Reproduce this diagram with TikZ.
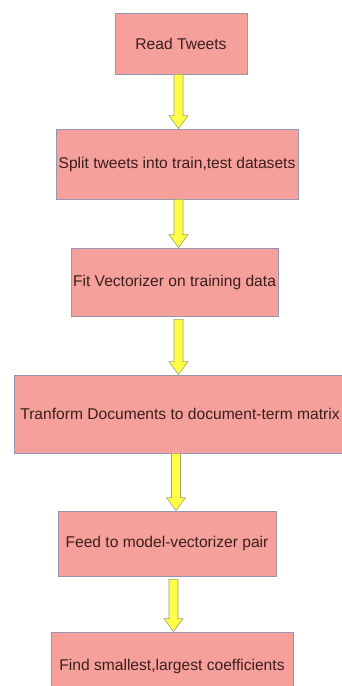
\documentclass[tikz,border=0pt]{standalone}
\usepackage{fontspec}
\setmainfont{Liberation Sans}
\usetikzlibrary{calc}
\definecolor{boxfill}{RGB}{245,160,155}
\definecolor{boxedge}{RGB}{150,150,180}
\definecolor{arrowfill}{RGB}{255,255,70}
\definecolor{arrowedge}{RGB}{160,160,110}
\definecolor{textcol}{RGB}{60,30,30}
\tikzstyle{process} = [rectangle, text centered, draw=boxedge, fill=boxfill, text=textcol, line width=0.8pt, font=\fontsize{15.6}{18}\selectfont, inner sep=0pt]
\tikzstyle{fatarrow} = [draw=arrowedge, fill=arrowfill, line width=0.6pt, to path={
  let \p1=(\tikztostart), \p2=(\tikztotarget) in
  (\x1-4.5pt,\y1) -- (\x1-4.5pt,\y2+13pt) -- (\x1-9.5pt,\y2+13pt) -- (\x1,\y2)
  -- (\x1+9.5pt,\y2+13pt) -- (\x1+4.5pt,\y2+13pt) -- (\x1+4.5pt,\y1) -- cycle}]

\begin{document}
\begin{tikzpicture}[x=1pt, y=-1pt]
\useasboundingbox (0,0) rectangle (342,686);
\clip (0,0) rectangle (342,686);

\node (read) [process, minimum width=132pt, minimum height=61pt] at (181,43.5) {Read Tweets};
\node (split) [process, minimum width=242pt, minimum height=70pt] at (177,164) {Split tweets into train,test datasets};
\node (fit) [process, minimum width=207pt, minimum height=68pt] at (174.5,282) {Fit Vectorizer on training data};
\node (transform) [process, minimum width=338pt, minimum height=78pt] at (183,414) {\hspace*{-6pt}Tranform Documents to document-term matrix};
\node (feed) [process, minimum width=218pt, minimum height=65pt] at (167,543.5) {Feed to model-vectorizer pair};
\node (find) [process, minimum width=242pt, minimum height=68pt] at (172,666) {Find smallest,largest coefficients};

\coordinate (a1) at (178.5,0);
\coordinate (a4) at (176,0);
\coordinate (a5) at (173.5,0);

\draw [fatarrow] (read.south -| a1) to (split.north -| a1);
\draw [fatarrow] (split.south -| a1) to (fit.north -| a1);
\draw [fatarrow] ([yshift=-3pt]fit.south -| a1) to (transform.north -| a1);
\draw [fatarrow] (transform.south -| a4) to (feed.north -| a4);
\draw [fatarrow] ([yshift=-3pt]feed.south -| a5) to (find.north -| a5);

\end{tikzpicture}
\end{document}
